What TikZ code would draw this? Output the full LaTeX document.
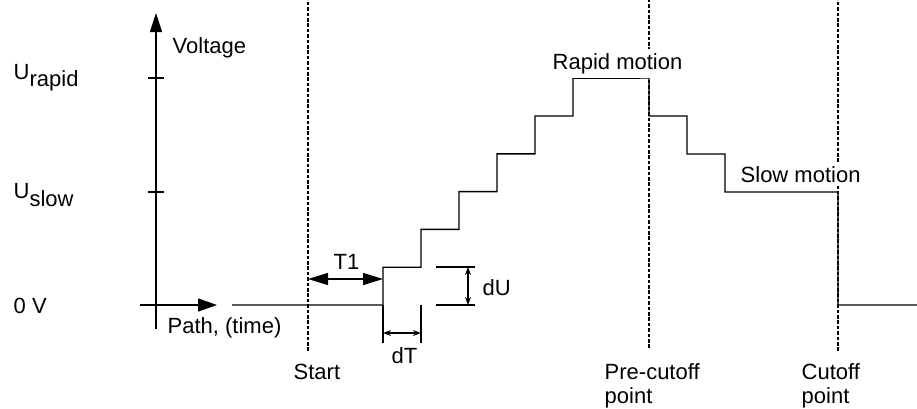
\documentclass[tikz,border=0pt]{standalone}
\usepackage{fontspec}
\setmainfont{Liberation Sans}
\usepackage{tikz}
\usetikzlibrary{positioning}
\usetikzlibrary{arrows.meta}
\tikzset{lbl/.style={inner sep=0pt,anchor=base west,align=left},
	guide/.style={line width=0.55pt,dash pattern=on 1.8pt off 0.9pt},
	big/.style={{Triangle[length=10pt,width=6pt]}-{Triangle[length=10pt,width=6pt]}},
	small/.style={{Stealth[length=4pt,width=3pt]}-{Stealth[length=4pt,width=3pt]}},}

\begin{document}
\begin{tikzpicture}[x=0.5pt, y=-0.5pt, line width=0.7pt, font=\fontsize{11}{12}\selectfont]
	\useasboundingbox (0,0) rectangle (917,408);
	\coordinate (o) at (156,305);
	\coordinate (start) at (308,351);
	\coordinate (pre) at (649,348);
	\coordinate (cut) at (838,351);

	% guide lines
	\draw[guide] (start) -- (308,0);
	\draw[guide] (pre) -- (649,0);
	\draw[guide] (cut) -- (838,0);

	% axes
	\draw[-{Triangle[length=9.5pt,width=6pt]}] (156,329) -- (156,13);
	\draw[-{Triangle[length=9.5pt,width=6.5pt]}] (140,305) -- (217,305);
	\draw (148,78) -- (164,78) (148,192) -- (164,192);

	% voltage
	\draw (232,305) -- (383,305)
		\foreach \i in {1,...,6} {-- ++(0,-37.8) -- ++(38,0)}
		-- (649,78) -- (649,116) -- (687,116) -- (687,154) -- (725,154)
		-- (725,192) -- (838,192) -- (838,305) -- (917,305);

	% dimensions
	\coordinate (t1) at (383,279);
	\draw[big] (start |- t1) -- (t1);
	\draw (383,305) -- (383,343) (421,305) -- (421,343);
	\coordinate (dta) at (383,333);
	\coordinate (dtb) at (421,333);
	\draw[small] (dta) -- (dtb);
	\draw (436,267) -- (475,267) (436,305) -- (475,305);
	\coordinate (dua) at (468,267);
	\coordinate (dub) at (468,305);
	\draw[small] (dua) -- (dub);

	% labels
	\node[lbl] (urapid) at (13,79) {U\raisebox{-3.5pt}{rapid}};
	\node[lbl] (uslow) at (13,198) {U\raisebox{-4pt}{slow}};
	\node[lbl] (zero) at (13,313) {0 V};
	\node[lbl] (volt) at (172,53) {Voltage};
	\node[lbl] (path) at (167,333) {Path, (time)};
	\node[lbl] (t1l) at (333,269) {T1};
	\node[lbl] (dtl) at (391,363) {dT};
	\node[lbl] (dul) at (482,295) {dU};
	\node[lbl,fill=white,inner ysep=2pt] (rapid) at (552,69) {Rapid motion};
	\node[lbl,fill=white,inner ysep=2pt] (slow) at (740,182) {Slow motion};
	\node[lbl] (startl) at (293,379) {Start};
	\node[lbl] (prel) at (604,403) {Pre-cutoff\\point};
	\node[lbl] (cutl) at (801,403) {Cutoff\\point};
\end{tikzpicture}
\end{document}
